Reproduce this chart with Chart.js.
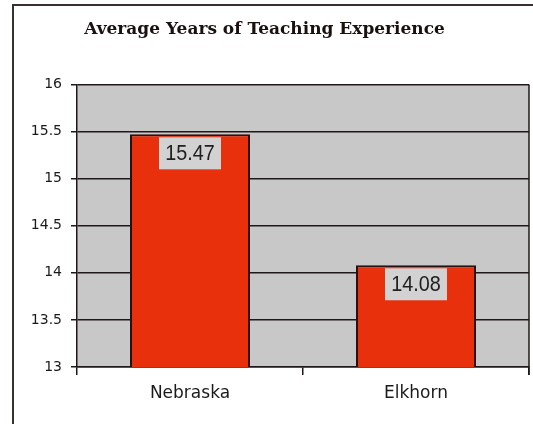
<!DOCTYPE html>
<html>
<head>
<meta charset="utf-8">
<script src="https://cdn.jsdelivr.net/npm/chart.js@4/dist/chart.umd.min.js"></script>
<style>
    html, body { margin: 0; padding: 0; background: #ffffff; }
    #wrap { width: 533px; height: 424px; }
</style>
</head>
<body>
<div id="wrap"><canvas id="teachingChart" width="533" height="424"></canvas></div>
<script>
const categories = ["Nebraska", "Elkhorn"];
const avgYears = [15.47, 14.08];
const yTicks = [13, 13.5, 14, 14.5, 15, 15.5, 16];

// gray plot area, frame and right edge line
const plotBackground = {
    id: "plotBackground",
    beforeDraw(chart) {
        const { ctx, chartArea } = chart;
        ctx.save();
        ctx.fillStyle = "#c8c8c8";
        ctx.fillRect(chartArea.left, chartArea.top, chartArea.right - chartArea.left, chartArea.bottom - chartArea.top);
        ctx.strokeStyle = "#3a3030";
        ctx.lineWidth = 2;
        ctx.strokeRect(13, 5, 700, 700);
        ctx.restore();
    },
    afterDraw(chart) {
        const { ctx, chartArea } = chart;
        ctx.save();
        ctx.strokeStyle = "#201818";
        ctx.lineWidth = 1.5;
        ctx.beginPath();
        ctx.moveTo(chartArea.right, chartArea.top);
        ctx.lineTo(chartArea.right, chartArea.bottom + 8);
        ctx.stroke();
        ctx.restore();
    },
};

// value boxes just under the top of each bar
const valueBoxes = {
    id: "valueBoxes",
    afterDatasetsDraw(chart) {
        const { ctx } = chart;
        const meta = chart.getDatasetMeta(0);
        meta.data.forEach((bar, index) => {
            const text = avgYears[index].toFixed(2);
            const boxW = 62;
            const boxH = 32;
            const x = bar.x - boxW / 2;
            const y = bar.y + 3;
            ctx.save();
            ctx.fillStyle = "#d2d2d2";
            ctx.fillRect(x, y, boxW, boxH);
            ctx.translate(bar.x, y + boxH / 2 + 1);
            ctx.scale(0.9, 1);
            ctx.fillStyle = "#202020";
            ctx.font = "22px 'Liberation Sans', Arial, sans-serif";
            ctx.textAlign = "center";
            ctx.textBaseline = "middle";
            ctx.fillText(text, 0, 0);
            ctx.restore();
        });
    },
};

document.addEventListener("DOMContentLoaded", () => {
    const canvas = document.getElementById("teachingChart");

    new Chart(canvas, {
        type: "bar",
        data: {
            labels: categories,
            datasets: [
                {
                    label: "Average Years",
                    data: avgYears,
                    backgroundColor: "#e8300c",
                    borderColor: "#2a1010",
                    borderWidth: 2,
                    borderSkipped: false,
                    barPercentage: 1,
                    categoryPercentage: 0.531,
                },
            ],
        },
        options: {
            responsive: false,
            animation: false,
            layout: {
                padding: { left: 0, right: 4, top: 0, bottom: 0 },
            },
            plugins: {
                legend: { display: false },
                tooltip: { enabled: false },
                title: {
                    display: true,
                    text: "Average Years of Teaching Experience",
                    color: "#1a1010",
                    font: { family: "'DejaVu Serif', serif", size: 17, weight: "bold" },
                    padding: { top: 19, bottom: 45 },
                },
            },
            scales: {
                x: {
                    grid: {
                        drawOnChartArea: false,
                        tickLength: 8,
                        tickColor: "#201818",
                        lineWidth: 1.5,
                    },
                    border: { color: "#201818", width: 1.5 },
                    ticks: {
                        color: "#1a1a1a",
                        padding: 8,
                        font: { family: "'DejaVu Sans', sans-serif", size: 17 },
                    },
                    afterFit(scale) {
                        scale.height = 57;
                    },
                },
                y: {
                    min: yTicks[0],
                    max: yTicks[yTicks.length - 1],
                    afterBuildTicks(scale) {
                        scale.ticks = yTicks.map((value) => ({ value }));
                    },
                    grid: {
                        color: "#201818",
                        lineWidth: 1.5,
                        tickLength: 6,
                        tickColor: "#201818",
                    },
                    border: { color: "#201818", width: 1.5 },
                    ticks: {
                        color: "#1a1a1a",
                        padding: 9,
                        font: { family: "'DejaVu Sans', sans-serif", size: 14 },
                        callback: (value) => String(value),
                    },
                    afterFit(scale) {
                        scale.width = 77;
                    },
                },
            },
        },
        plugins: [plotBackground, valueBoxes],
    });
});
</script>
</body>
</html>
